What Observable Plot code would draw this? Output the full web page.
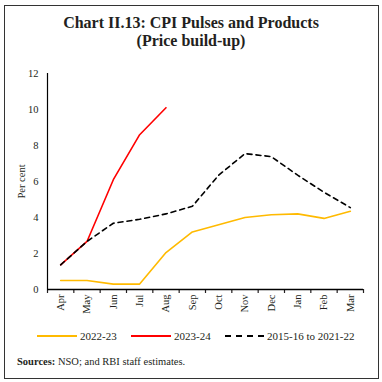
<!DOCTYPE html>
<html>
<head>
<meta charset="utf-8">
<script src="https://cdn.jsdelivr.net/npm/d3@7"></script>
<script src="https://cdn.jsdelivr.net/npm/@observablehq/plot@0.6"></script>
<style>
  html, body { margin: 0; padding: 0; background: #fff; }
  body { width: 382px; height: 382px; position: relative; overflow: hidden; font-family: "Liberation Serif", serif; color: #231f20; }
  #frame { position: absolute; left: 4px; top: 5px; width: 375px; height: 374px; border: 1.5px solid #333; box-sizing: border-box; }
  .title { position: absolute; left: 0; width: 382px; text-align: center; font-weight: bold; font-size: 16px; }
  #chart { position: absolute; left: 0; top: 60px; }
  .leg { position: absolute; top: 329px; font-size: 11px; line-height: 14px; }
  .leg svg { position: absolute; top: 0; }
  #src { position: absolute; left: 17px; top: 356px; font-size: 10.5px; }
</style>
</head>
<body>
<div id="frame"></div>
<div class="title" style="top:14px">Chart II.13: CPI Pulses and Products</div>
<div class="title" style="top:32px">(Price build-up)</div>
<div id="chart"></div>
<div id="legend"></div>
<div id="src"><b>Sources:</b> NSO; and RBI staff estimates.</div>
<script>
const months = ["Apr","May","Jun","Jul","Aug","Sep","Oct","Nov","Dec","Jan","Feb","Mar"];
const fy2223 = [0.5, 0.5, 0.3, 0.3, 2.05, 3.2, 3.6, 4.0, 4.15, 4.2, 3.95, 4.35];
const fy2324 = [1.37, 2.67, 6.1, 8.6, 10.1];
const avg1522 = [1.37, 2.67, 3.68, 3.9, 4.2, 4.62, 6.35, 7.55, 7.38, 6.35, 5.4, 4.55];
const yTicks = [0, 2, 4, 6, 8, 10, 12];
const seriesNames = ["2022-23", "2023-24", "2015-16 to 2021-22"];
const seriesColors = ["#FFBA00", "#FF0000", "#000000"];

const toRows = (vals) => vals.map((v, i) => ({x: i + 0.5, y: v, m: months[i]}));
const centers = months.map((m, i) => i + 0.5);

const chart = Plot.plot({
  width: 382,
  height: 259,
  marginLeft: 47,
  marginRight: 19,
  marginTop: 13,
  marginBottom: 30,
  x: {domain: [0, months.length]},
  y: {domain: [0, 12]},
  style: {fontFamily: "Liberation Serif", fontSize: "10.5px", color: "#231f20", background: "transparent"},
  marks: [
    Plot.axisY({ticks: yTicks, tickSize: 0, tickPadding: 9, label: "Per cent", labelAnchor: "center", labelArrow: "none", labelOffset: 30}),
    Plot.axisX({ticks: d3.range(months.length + 1), tickSize: 4, tickFormat: () => "", label: null, strokeWidth: 1.2}),
    Plot.axisX({ticks: centers, tickSize: 0, tickRotate: -90, tickPadding: 5, tickFormat: d => months[Math.floor(d)], label: null}),
    Plot.ruleX([0], {stroke: "#000", strokeWidth: 1.2}),
    Plot.ruleY([0], {stroke: "#000", strokeWidth: 1.5}),
    Plot.line(toRows(fy2223), {x: "x", y: "y", stroke: seriesColors[0], strokeWidth: 1.6}),
    Plot.line(toRows(fy2324), {x: "x", y: "y", stroke: seriesColors[1], strokeWidth: 1.6}),
    Plot.line(toRows(avg1522), {x: "x", y: "y", stroke: seriesColors[2], strokeWidth: 1.6, strokeDasharray: "5,4"})
  ]
});
document.getElementById("chart").appendChild(chart);

// legend
const legPos = [[37, 80], [131, 174], [225, 267]];
const legend = document.getElementById("legend");
seriesNames.forEach((name, i) => {
  const [sx, tx] = legPos[i];
  const d = document.createElement("div");
  d.className = "leg";
  d.style.left = sx + "px";
  const dash = i === 2 ? 'stroke-dasharray="6,5"' : '';
  d.innerHTML = `<svg width="40" height="14" style="left:0"><line x1="0" x2="40" y1="7" y2="7" stroke="${seriesColors[i]}" stroke-width="2" ${dash}/></svg><span style="position:absolute;left:${tx - sx}px;white-space:nowrap">${name}</span>`;
  legend.appendChild(d);
});
</script>
</body>
</html>
